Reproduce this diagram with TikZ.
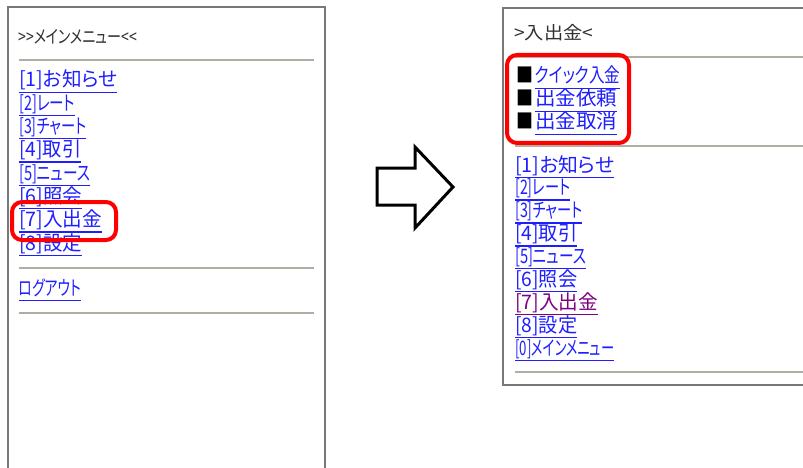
\documentclass[tikz,border=0pt]{standalone}
\usepackage{fontspec}
\usepackage{graphicx}
\newfontfamily\jpfont{Noto Sans CJK JP}[RawFeature=+palt]
\definecolor{linkblue}{RGB}{30,30,255}
\definecolor{visitedpurple}{RGB}{128,0,128}
\definecolor{rulegray}{RGB}{176,173,165}
\definecolor{framegray}{RGB}{120,120,120}
\definecolor{headtext}{RGB}{50,50,50}
\newsavebox\fitbox
\newcommand{\fitto}[2]{\sbox\fitbox{#2}%
  \pgfmathsetmacro\fitscale{#1/(\wd\fitbox)}%
  \scalebox{\fitscale}[1]{\usebox\fitbox}}

\tikzset{
  panel/.style={draw=framegray, line width=1.6pt, fill=white},
  rule/.style={draw=rulegray, line width=2.5pt},
  hilite/.style={draw=red, line width=4pt, rounded corners=10pt},
  heading/.style={anchor=west, inner sep=0pt, text=headtext,
    font=\jpfont\fontsize{18}{18}\selectfont},
  link/.style={anchor=west, inner sep=0pt, text=#1,
    text height=15pt, text depth=5pt,
    font=\jpfont\fontsize{20}{20}\selectfont,
    append after command={(\tikzlastnode.south west)
      edge[draw=#1, line width=1.3pt] (\tikzlastnode.south east)}},
  link/.default=linkblue,
  bullet/.style={anchor=west, inner sep=0pt, text=black,
    text height=15pt, text depth=5pt,
    font=\jpfont\fontsize{20}{20}\selectfont},
  bigarrow/.style={draw=black, line width=3pt, fill=white, line join=miter},
}

\begin{document}
\begin{tikzpicture}[x=1pt,y=-1pt]
    \useasboundingbox (0,0) rectangle (803,468);
    \clip (0,0) rectangle (803,468);

    % main menu screen
    \draw[panel] (8,7) rectangle (325,490);
    \node[heading] (maintitle) at (18,37) {\fitto{119}{>>メインメニュー<<}};
    \draw[rule] (19,60) -- (314,60);
    \foreach \t/\w [count=\i] in {{[1]お知らせ}/98, {[2]レート}/56, {[3]チャート}/67,
        {[4]取引}/62, {[5]ニュース}/71, {[6]照会}/63, {[7]入出金}/83, {[8]設定}/63}
        \node[link] (m\i) at (19,{82+(\i-1)*23.3}) {\fitto{\w}{\t}};
    \draw[rule] (19,268) -- (314,268);
    \node[link] (logout) at (19,290) {\fitto{62}{ログアウト}};
    \draw[rule] (19,313) -- (314,313);
    \draw[hilite] (12,202) rectangle (116,240);

    % arrow
    \draw[bigarrow] (377,168) -- (415,168) -- (415,147) -- (453,187)
        -- (415,228) -- (415,205) -- (377,205) -- cycle;

    % deposit/withdrawal screen
    \draw[panel] (503,8) rectangle (830,385);
    \node[heading] (subtitle) at (514,33) {\fitto{79}{>入出金<}};
    \draw[rule] (515,57) -- (803,57);
    \foreach \t/\w [count=\i] in {クイック入金/85, 出金依頼/82, 出金取消/82} {
        \node[bullet] (b\i) at (516,{78+(\i-1)*23}) {\fitto{17}{■}};
        \node[link] (s\i) at (535,{78+(\i-1)*23}) {\fitto{\w}{\t}};
    }
    \draw[rule] (515,146) -- (803,146);
    \foreach \t/\w/\c [count=\i] in {{[1]お知らせ}/99/linkblue, {[2]レート}/55/linkblue,
        {[3]チャート}/67/linkblue, {[4]取引}/62/linkblue, {[5]ニュース}/71/linkblue,
        {[6]照会}/62/linkblue, {[7]入出金}/83/visitedpurple, {[8]設定}/62/linkblue,
        {[0]メインメニュー}/99/linkblue}
        \node[link=\c] (r\i) at (515,{167+(\i-1)*22.9}) {\fitto{\w}{\t}};
    \draw[rule] (515,372) -- (803,372);
    \draw[hilite] (507,55) rectangle (629,143);

\end{tikzpicture}
\end{document}
